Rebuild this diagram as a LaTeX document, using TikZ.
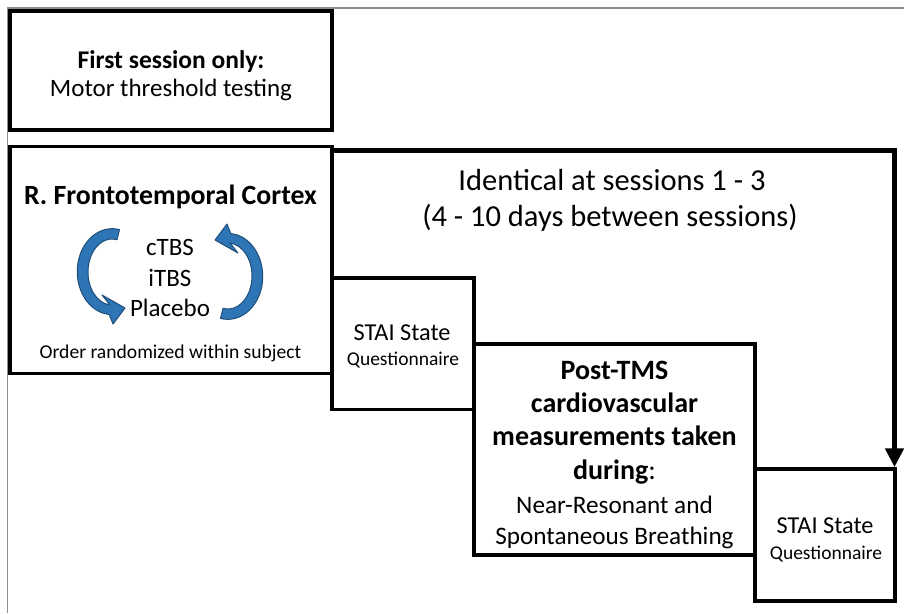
\documentclass[tikz,border=0pt]{standalone}
\usepackage{fontspec}
\setmainfont{Carlito}
\usetikzlibrary{arrows.meta}
\definecolor{arrowblue}{RGB}{46,117,182}
\definecolor{arrowedge}{RGB}{31,78,121}
\definecolor{framegray}{RGB}{140,140,140}
\begin{document}
\begin{tikzpicture}[x=1pt,y=-1pt,
  box/.style={draw=black, line width=3.5pt, rectangle, inner sep=0pt},
  txt/.style={inner sep=0pt, anchor=base, text=black},
  cyc/.style={fill=arrowblue, draw=arrowedge, line width=1pt, line join=round},
  flow/.style={draw=black, line width=5pt, line join=miter, -{Triangle[length=19pt,width=18pt]}}]
\useasboundingbox (0,0) rectangle (904,613);
% outer frame
\coordinate (fbl) at (7.5,613);
\coordinate (ftl) at (7.5,8);
\coordinate (ftr) at (904,8);
\draw[framegray, line width=1.5pt] (fbl) -- (ftl) -- (ftr);
% boxes
\node[box, minimum width=322pt, minimum height=119pt] (b1) at (171,70.5) {};
\node[box, minimum width=322pt, minimum height=227pt] (b2) at (171,260) {};
\node[box, minimum width=142pt, minimum height=131.5pt] (s1) at (403,343.75) {};
\node[box, minimum width=281pt, minimum height=211pt] (p) at (614.5,449.5) {};
\node[box, minimum width=140pt, minimum height=132pt] (s2) at (825,535) {};
% flow arrow
\coordinate (corner) at (894.5,150.5);
\draw[flow] (b2.east |- corner) -- (corner) -- (corner |- s2.north);
% texts box 1
\node[txt, font=\fontsize{25.5}{30}\selectfont\bfseries] (t1a) at (171,68) {First session only:};
\node[txt, font=\fontsize{25}{30}\selectfont] (t1b) at (171,96) {Motor threshold testing};
% texts box 2
\node[txt, font=\fontsize{27.8}{32}\selectfont\bfseries] (t2a) at (170.5,204) {R. Frontotemporal Cortex};
\node[txt, font=\fontsize{25}{30}\selectfont] (t2b) at (170,255) {cTBS};
\node[txt, font=\fontsize{25}{30}\selectfont] (t2c) at (170,286) {iTBS};
\node[txt, font=\fontsize{25}{30}\selectfont] (t2d) at (170,316) {Placebo};
\node[txt, font=\fontsize{19.6}{24}\selectfont] (t2e) at (170.5,358) {Order randomized within subject};
% identical
\node[txt, font=\fontsize{30.5}{36}\selectfont] (t3a) at (612,190) {Identical at sessions 1 - 3};
\node[txt, font=\fontsize{30.5}{36}\selectfont] (t3b) at (610,226) {(4 - 10 days between sessions)};
% STAI 1
\node[txt, font=\fontsize{24.3}{29}\selectfont] (t4a) at (402,340) {STAI State};
\node[txt, font=\fontsize{19.5}{23}\selectfont] (t4b) at (403,365) {Questionnaire};
% post-TMS
\node[txt, font=\fontsize{28}{33}\selectfont\bfseries] (t5a) at (614.5,379) {Post-TMS};
\node[txt, font=\fontsize{28}{33}\selectfont\bfseries] (t5b) at (614.5,412) {cardiovascular};
\node[txt, font=\fontsize{28}{33}\selectfont\bfseries] (t5c) at (614.5,445) {measurements taken};
\node[txt, font=\fontsize{28}{33}\selectfont] (t5d) at (614.5,479) {\textbf{during}:};
\node[txt, font=\fontsize{25.2}{30}\selectfont] (t5e) at (614.5,513) {Near-Resonant and};
\node[txt, font=\fontsize{25.2}{30}\selectfont] (t5f) at (614.5,544) {Spontaneous Breathing};
% STAI 2
\node[txt, font=\fontsize{24.3}{29}\selectfont] (t6a) at (825,533) {STAI State};
\node[txt, font=\fontsize{19.5}{23}\selectfont] (t6b) at (826,559) {Questionnaire};
% cycle arrows
\path[cyc] (119.5,229.6) arc[start angle=282,end angle=95,x radius=35,y radius=43]
  -- (113,324) -- (125,308) -- (102,295) -- (109.9,304.9)
  arc[start angle=95,end angle=282,x radius=24,y radius=33] -- cycle;
\begin{scope}[rotate around={180:(170,274)}]
\path[cyc] (119.5,229.6) arc[start angle=282,end angle=95,x radius=35,y radius=43]
  -- (113,324) -- (125,308) -- (102,295) -- (109.9,304.9)
  arc[start angle=95,end angle=282,x radius=24,y radius=33] -- cycle;
\end{scope}
\end{tikzpicture}
\end{document}
